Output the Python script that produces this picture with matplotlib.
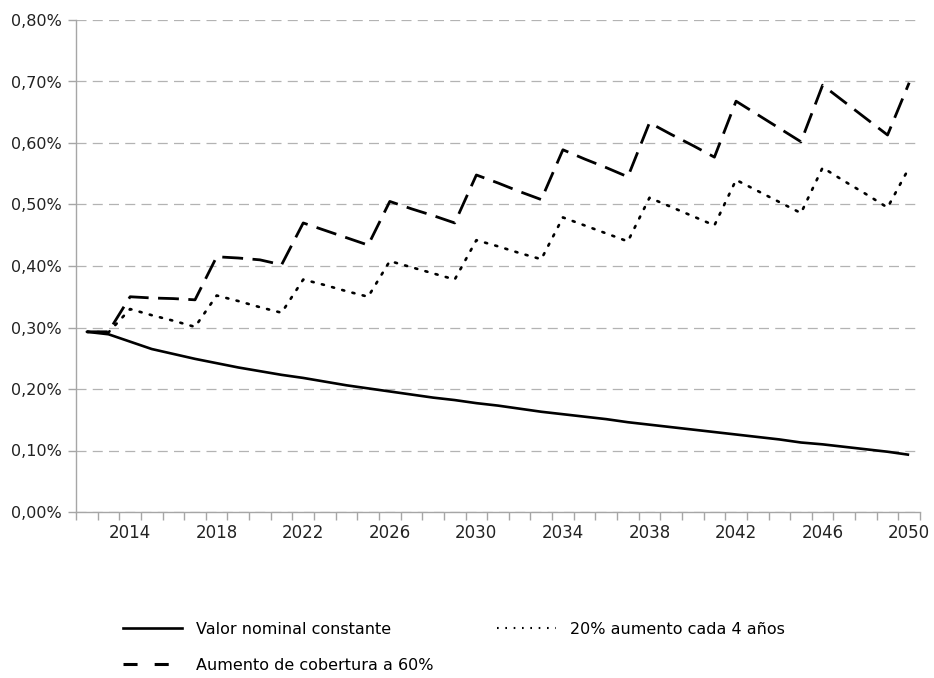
import matplotlib
matplotlib.use("Agg")
import matplotlib.pyplot as plt
from matplotlib.lines import Line2D
from matplotlib.ticker import FuncFormatter, MultipleLocator

# Data (percent values)
years = list(range(2012, 2051))

valor_nominal = [0.293, 0.289, 0.277, 0.265, 0.257, 0.249, 0.242, 0.235, 0.229, 0.223,
                 0.218, 0.212, 0.206, 0.201, 0.196, 0.191, 0.186, 0.182, 0.177, 0.173,
                 0.168, 0.163, 0.159, 0.155, 0.151, 0.146, 0.142, 0.138, 0.134, 0.130,
                 0.126, 0.122, 0.118, 0.113, 0.110, 0.106, 0.102, 0.098, 0.093]

aumento_20 = [0.293, 0.292, 0.330, 0.320, 0.311, 0.301, 0.352, 0.343, 0.333, 0.324,
              0.378, 0.369, 0.359, 0.350, 0.408, 0.398, 0.388, 0.378, 0.442, 0.432,
              0.421, 0.411, 0.479, 0.466, 0.453, 0.440, 0.511, 0.496, 0.481, 0.466,
              0.540, 0.522, 0.504, 0.486, 0.560, 0.538, 0.517, 0.495, 0.560]

cobertura_60 = [0.293, 0.293, 0.350, 0.348, 0.347, 0.345, 0.415, 0.413, 0.410, 0.402,
                0.470, 0.458, 0.446, 0.434, 0.505, 0.493, 0.482, 0.470, 0.548, 0.535,
                0.521, 0.508, 0.589, 0.574, 0.560, 0.545, 0.633, 0.614, 0.596, 0.577,
                0.668, 0.646, 0.624, 0.602, 0.694, 0.667, 0.640, 0.613, 0.698]

labels = ["Valor nominal constante", "20% aumento cada 4 años", "Aumento de cobertura a 60%"]
year_ticks = list(range(2014, 2051, 4))

grey = "#a6a6a6"
plt.rcParams["font.family"] = ["DejaVu Sans"]

fig = plt.figure(figsize=(9.34, 6.78), dpi=100)
ax = fig.add_axes([76 / 934, 1 - 512 / 678, (920 - 76) / 934, (512 - 20) / 678])

ax.plot(years, valor_nominal, color="black", lw=1.9, solid_capstyle="butt")
ax.plot(years, aumento_20, color="black", lw=1.9, linestyle=(0, (0.8, 3.2)),
        dash_capstyle="round")
ax.plot(years, cobertura_60, color="black", lw=2.0, linestyle=(0, (7.5, 3.4)))

ax.set_xlim(2011.5, 2050.5)
ax.set_ylim(0, 0.8)

# y axis
ax.yaxis.set_major_locator(MultipleLocator(0.1))
ax.yaxis.set_major_formatter(FuncFormatter(lambda v, p: f"{v:.2f}%".replace(".", ",")))
ax.tick_params(axis="y", length=6, width=1, color=grey, pad=4, labelsize=11.5,
               labelcolor="#222222")
ax.grid(axis="y", color="#b3b3b3", lw=0.9, linestyle=(0, (8, 5)))

# x axis: ticks between categories, labels every 4 years
ax.set_xticks(year_ticks)
ax.set_xticklabels([str(y) for y in year_ticks])
ax.set_xticks([y - 0.5 for y in years] + [2050.5], minor=True)
ax.tick_params(axis="x", which="major", length=0, pad=9, labelsize=12, labelcolor="#222222")
ax.tick_params(axis="x", which="minor", length=6, width=1, color=grey)

for side in ["top", "right"]:
    ax.spines[side].set_visible(False)
for side in ["left", "bottom"]:
    ax.spines[side].set_color(grey)
    ax.spines[side].set_linewidth(1)
ax.set_axisbelow(True)

# legend handles (drawn like the reference legend keys)
h1 = Line2D([], [], color="black", lw=1.9)
h2 = Line2D([], [], color="black", lw=1.5, linestyle=(0, (0.8, 3.2)))
h3 = Line2D([], [], color="black", lw=2.2, linestyle=(0, (4.6, 5.6)))

# legend fills column-wise, so order the handles to get row 1: h1, h2 / row 2: h3
leg = fig.legend([h1, h3, h2], [labels[0], labels[2], labels[1]], ncol=2, loc="upper left",
                 bbox_to_anchor=(123 / 934, 1 - 622 / 678), frameon=False,
                 borderpad=0, borderaxespad=0,
                 handlelength=3.7, handletextpad=0.85, columnspacing=4.0,
                 labelspacing=1.3, fontsize=11.5)

fig.savefig("out.png", dpi=100)
